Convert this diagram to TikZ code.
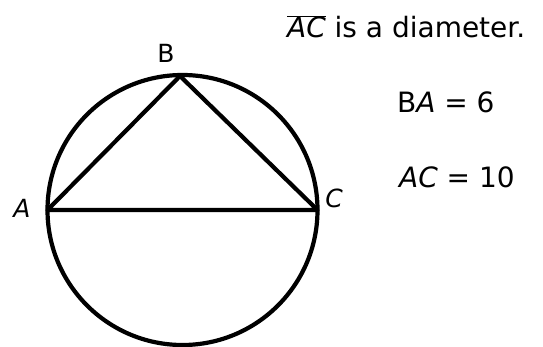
\documentclass[tikz,border=0pt]{standalone}
\usepackage{fontspec}
\setmainfont{DejaVu Sans}
\usepackage{tikz}
\usetikzlibrary{calc}

\begin{document}
\begin{tikzpicture}[x=1pt,y=-1pt,line width=4.2pt,
    pt/.style={font=\fontsize{25}{30}\selectfont},
    info/.style={font=\fontsize{28}{33}\selectfont,anchor=base west,inner sep=0pt}]
    \useasboundingbox (0,0) rectangle (543,347);
    \coordinate (O) at (182.5,210);
    \coordinate (A) at (47.5,210);
    \coordinate (B) at (180,76);
    \coordinate (C) at (317.5,210);
    \draw (O) circle (135pt);
    \draw[line join=round] (A) -- (B) -- (C) -- cycle;
    \node[pt] (labA) at (22,208) {\itshape A};
    \node[pt] (labB) at (166,53) {B};
    \node[pt] (labC) at (334,198) {\itshape C};
    \node[info] (diam) at (285,38) {$\overline{\hbox{\itshape AC}}$ is a diameter.};
    \node[info] (ba) at (395,113) {B\textit{A} = 6};
    \node[info] (ac) at (397,188) {\textit{AC} = 10};
  \end{tikzpicture}
\end{document}
